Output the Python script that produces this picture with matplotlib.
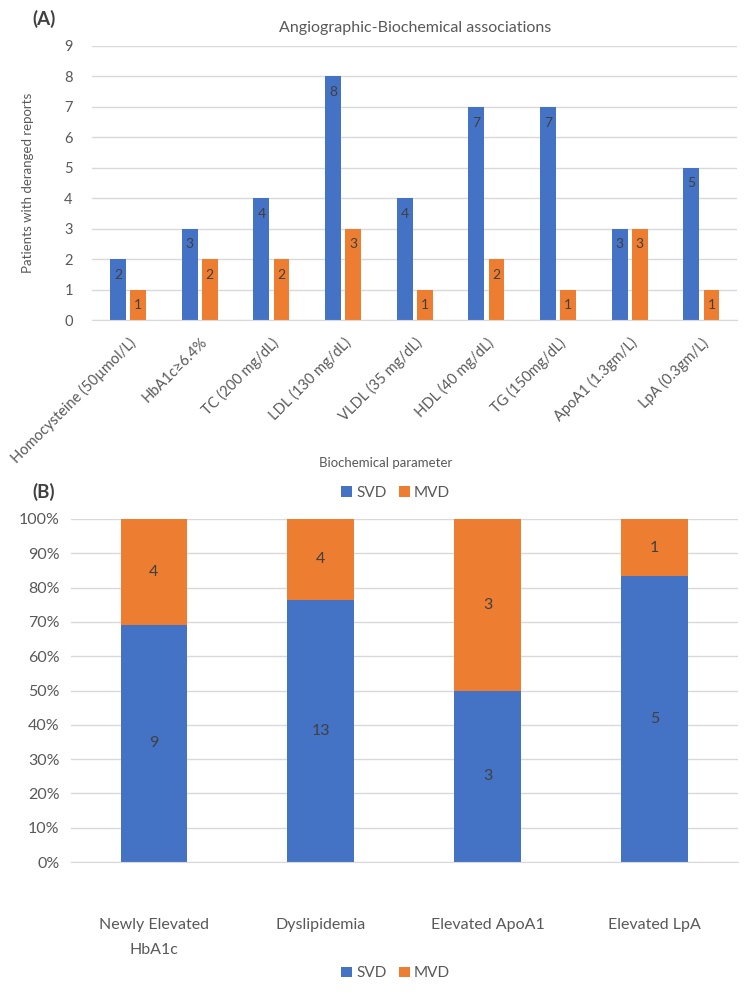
import matplotlib
matplotlib.use("Agg")
import matplotlib.pyplot as plt
import numpy as np

# datos (A)
PARAMS = ["Homocysteine (50µmol/L)", "HbA1c≥6.4%", "TC (200 mg/dL)", "LDL (130 mg/dL)",
          "VLDL (35 mg/dL)", "HDL (40 mg/dL)", "TG (150mg/dL)", "ApoA1 (1.3gm/L)", "LpA (0.3gm/L)"]
SVD_A = [2, 3, 4, 8, 4, 7, 7, 3, 5]
MVD_A = [1, 2, 2, 3, 1, 2, 1, 3, 1]

# datos (B)
GRUPOS = ["Newly Elevated\nHbA1c", "Dyslipidemia", "Elevated ApoA1", "Elevated LpA"]
SVD_B = [9, 13, 3, 5]
MVD_B = [4, 4, 3, 1]

AZUL = "#4472C4"
NARANJA = "#ED7D31"
TEXTO = "#595959"
GRID = "#D9D9D9"

plt.rcParams["font.family"] = ["Lato", "DejaVu Sans"]

fig = plt.figure(figsize=(7.5, 10), dpi=100)

def estilo(ax):
    for s in ["top", "right", "left"]:
        ax.spines[s].set_visible(False)
    ax.spines["bottom"].set_color(GRID)
    ax.tick_params(axis="both", length=0, colors=TEXTO)
    ax.grid(axis="y", color=GRID, linewidth=1)
    ax.set_axisbelow(True)

# ── (A) ──────────────────────────────────────────────
ax1 = fig.add_axes([0.123, 0.68, 0.86, 0.274])
x = np.arange(len(PARAMS))
w = 0.22
b1 = ax1.bar(x - w/2 - 0.03, SVD_A, w, color=AZUL)
b2 = ax1.bar(x + w/2 + 0.03, MVD_A, w, color=NARANJA)
for bars in (b1, b2):
    for b in bars:
        h = b.get_height()
        ax1.annotate(f"{h:g}", (b.get_x() + b.get_width()/2, h),
                     xytext=(0, -7), textcoords="offset points",
                     ha="center", va="top", color="#404040", fontsize=10)
estilo(ax1)
ax1.set_ylim(0, 9)
ax1.set_xlim(-0.5, len(PARAMS) - 0.5)
ax1.set_yticks(range(10))
ax1.tick_params(axis="y", labelsize=10.5, pad=14)
ax1.set_xticks(x)
ax1.set_xticklabels(PARAMS, rotation=45, ha="right", rotation_mode="anchor",
                    fontsize=10.5, color=TEXTO)
ax1.tick_params(axis="x", pad=11)
ax1.set_ylabel("Patients with deranged reports", color=TEXTO, fontsize=9.5, labelpad=22)
ax1.set_xlabel("Biochemical parameter", color=TEXTO, fontsize=9.5)
ax1.xaxis.set_label_coords(0.455, -0.5)
ax1.set_title("Angiographic-Biochemical associations", color=TEXTO, fontsize=11.5, pad=10)
fig.text(0.043, 0.981, "(A)", fontsize=13.5, fontweight="bold", color="#404040", va="center")

# ── (B) ──────────────────────────────────────────────
tot = np.array(SVD_B) + np.array(MVD_B)
p_svd = np.array(SVD_B) / tot * 100
p_mvd = np.array(MVD_B) / tot * 100

ax2 = fig.add_axes([0.094, 0.138, 0.89, 0.343])
xb = np.arange(len(GRUPOS))
wb = 0.4
s1 = ax2.bar(xb, p_svd, wb, color=AZUL, label="SVD")
s2 = ax2.bar(xb, p_mvd, wb, bottom=p_svd, color=NARANJA, label="MVD")
for bars, vals, base in ((s1, SVD_B, np.zeros(4)), (s2, MVD_B, p_svd)):
    for b, v, y0 in zip(bars, vals, base):
        ax2.text(b.get_x() + b.get_width()/2, y0 + b.get_height()/2, str(v),
                 ha="center", va="center", color="#404040", fontsize=11.5)
estilo(ax2)
ax2.set_ylim(0, 100)
ax2.set_xlim(-0.5, len(GRUPOS) - 0.5)
ax2.set_yticks(range(0, 101, 10))
ax2.set_yticklabels([f"{v}%" for v in range(0, 101, 10)], fontsize=11.5)
ax2.tick_params(axis="y", pad=8)
ax2.set_xticks(xb)
ax2.set_xticklabels(GRUPOS, fontsize=11.5, color=TEXTO, linespacing=2.0, va="top")
ax2.tick_params(axis="x", pad=40)

leg_kw = dict(ncol=2, frameon=False, fontsize=11, labelcolor=TEXTO,
              handlelength=0.7, handleheight=0.7, handletextpad=0.3, columnspacing=0.8)
leg_top = ax2.legend(handles=[s1, s2], loc="center", bbox_to_anchor=(0.487, 1.077), **leg_kw)
ax2.add_artist(leg_top)
ax2.legend(handles=[s1, s2], loc="center", bbox_to_anchor=(0.487, -0.325), **leg_kw)

fig.text(0.043, 0.508, "(B)", fontsize=13.5, fontweight="bold", color="#404040", va="center")

fig.savefig("out.png", dpi=100, facecolor="white")
